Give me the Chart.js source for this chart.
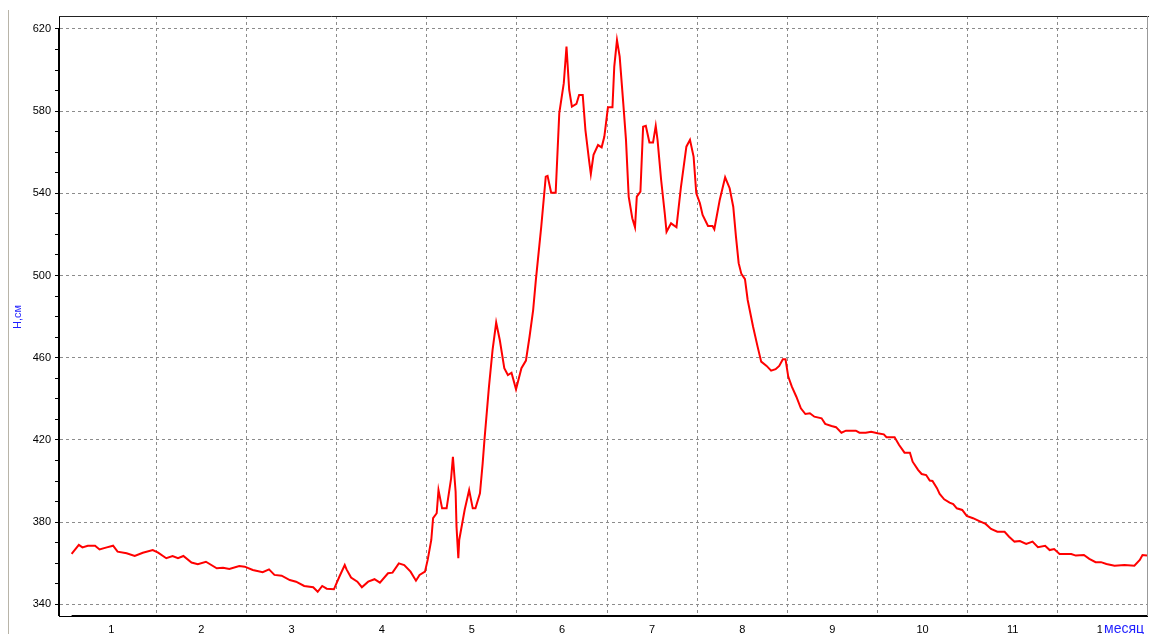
<!DOCTYPE html>
<html>
<head>
<meta charset="utf-8">
<script src="https://cdn.jsdelivr.net/npm/chart.js@4/dist/chart.umd.min.js"></script>
<style>
  html, body { margin: 0; padding: 0; background: #fff; }
  #wrap { width: 1149px; height: 634px; position: relative; }
</style>
</head>
<body>
<div id="wrap"><canvas id="levelChart"></canvas></div>
<script>
// x position in months, water level H in cm
const months = [
  0.56, 0.64, 0.68, 0.74, 0.82, 0.87, 0.95, 1.02, 1.07, 1.17, 1.26, 1.35, 1.46, 1.52, 1.61, 1.68, 1.74, 1.80, 1.89, 1.96,
  2.05, 2.17, 2.24, 2.31, 2.42, 2.48, 2.57, 2.68, 2.75, 2.81, 2.89, 2.98, 3.05, 3.14, 3.24, 3.29, 3.34, 3.39, 3.47, 3.53,
  3.59, 3.61, 3.66, 3.73, 3.78, 3.85, 3.92, 3.98, 4.07, 4.12, 4.19, 4.25, 4.32, 4.38, 4.42, 4.48, 4.51, 4.55, 4.57, 4.61,
  4.63, 4.67, 4.72, 4.77, 4.79, 4.82, 4.83, 4.85, 4.86, 4.92, 4.97, 5.01, 5.04, 5.09, 5.12, 5.14, 5.19, 5.23, 5.27, 5.31,
  5.36, 5.40, 5.44, 5.49, 5.55, 5.60, 5.64, 5.68, 5.71, 5.77, 5.82, 5.84, 5.88, 5.93, 5.97, 6.02, 6.05, 6.08, 6.11, 6.16,
  6.19, 6.23, 6.26, 6.30, 6.32, 6.35, 6.40, 6.44, 6.47, 6.51, 6.56, 6.58, 6.61, 6.64, 6.68, 6.71, 6.74, 6.78, 6.81, 6.83,
  6.87, 6.90, 6.93, 6.97, 7.01, 7.04, 7.06, 7.10, 7.14, 7.16, 7.21, 7.27, 7.32, 7.38, 7.42, 7.46, 7.49, 7.53, 7.56, 7.62,
  7.67, 7.69, 7.75, 7.81, 7.86, 7.90, 7.93, 7.96, 7.99, 8.03, 8.06, 8.12, 8.17, 8.21, 8.27, 8.32, 8.37, 8.41, 8.45, 8.48,
  8.51, 8.55, 8.60, 8.65, 8.70, 8.75, 8.80, 8.88, 8.92, 8.99, 9.04, 9.10, 9.15, 9.26, 9.30, 9.37, 9.43, 9.50, 9.57, 9.60,
  9.69, 9.74, 9.80, 9.86, 9.89, 9.95, 9.99, 10.04, 10.08, 10.11, 10.16, 10.19, 10.24, 10.30, 10.34, 10.38, 10.44, 10.49, 10.56, 10.63,
  10.70, 10.76, 10.83, 10.91, 10.96, 11.02, 11.08, 11.15, 11.22, 11.28, 11.36, 11.41, 11.46, 11.52, 11.65, 11.70, 11.79, 11.85, 11.92, 11.98,
  12.04, 12.13, 12.24, 12.35, 12.41, 12.44, 12.49
];
const level = [
  364.5, 368.9, 367.7, 368.5, 368.5, 366.7, 367.7, 368.5, 365.6, 364.8, 363.5, 365.1, 366.4, 365.1, 362.4, 363.5, 362.4, 363.5, 360.3, 359.5,
  360.7, 357.5, 357.8, 357.2, 358.6, 358.3, 356.7, 355.6, 357.0, 354.3, 353.9, 351.8, 351.0, 348.9, 348.3, 346.1, 348.9, 347.6, 347.3, 353.4,
  359.1, 357.0, 353.0, 351.0, 348.3, 351.0, 352.2, 350.5, 355.1, 355.4, 359.9, 359.1, 355.9, 351.5, 354.3, 355.9, 361.6, 371.3, 381.9, 384.3,
  395.6, 386.7, 386.7, 401.3, 411.8, 394.8, 377.8, 362.4, 371.3, 385.9, 395.6, 386.7, 386.7, 394.0, 408.6, 420.0, 445.9, 463.8, 477.1, 468.6,
  454.9, 451.6, 452.7, 444.6, 454.9, 458.6, 470.2, 483.2, 497.8, 523.8, 548.1, 548.5, 540.3, 540.3, 579.0, 593.6, 611.4, 590.3, 582.2, 583.5,
  587.9, 587.9, 570.8, 556.2, 549.4, 558.7, 563.5, 562.4, 567.6, 581.9, 581.9, 601.7, 614.6, 606.5, 583.8, 566.0, 538.4, 527.9, 523.5, 538.4,
  540.8, 572.4, 572.9, 564.7, 564.7, 572.8, 566.0, 546.5, 530.3, 521.3, 525.4, 523.5, 543.2, 562.7, 566.0, 557.9, 540.0, 535.2, 529.5, 524.1,
  524.1, 522.5, 536.8, 547.8, 542.5, 533.5, 518.9, 506.0, 500.8, 498.2, 488.1, 475.1, 465.4, 458.1, 456.0, 453.7, 454.4, 456.0, 459.2, 459.2,
  450.8, 445.9, 441.0, 435.4, 432.6, 433.0, 431.3, 430.5, 427.8, 426.8, 426.2, 423.5, 424.5, 424.5, 423.5, 423.5, 424.0, 423.2, 422.7, 421.3,
  421.3, 417.5, 413.8, 413.8, 409.4, 405.4, 403.4, 402.9, 400.2, 400.0, 396.5, 393.7, 391.1, 389.5, 388.8, 386.7, 385.9, 383.0, 381.9, 380.5,
  379.1, 376.7, 375.3, 375.3, 372.9, 370.5, 370.8, 369.4, 370.5, 367.8, 368.5, 366.4, 366.9, 364.5, 364.5, 363.7, 364.0, 362.1, 360.5, 360.5,
  359.6, 358.8, 359.1, 358.8, 361.6, 364.0, 363.7
];
const monthTicks = [1, 2, 3, 4, 5, 6, 7, 8, 9, 10, 11, 12];
const levelTicks = [340, 380, 420, 460, 500, 540, 580, 620];

const FONT = "'Liberation Sans', Arial, sans-serif";
const GRID = '#8c8c8c';

// frame, thick axis parts and the two blue captions
const decor = {
  id: 'decor',
  afterDraw(chart) {
    const { ctx, chartArea: a, scales: { x, y } } = chart;
    ctx.save();
    ctx.strokeStyle = '#b8b4a8';
    ctx.lineWidth = 1;
    ctx.beginPath();
    ctx.moveTo(8.5, 10); ctx.lineTo(8.5, 634);
    ctx.stroke();
    ctx.strokeStyle = '#222';
    ctx.beginPath();
    ctx.moveTo(a.left, a.top + 0.5); ctx.lineTo(1149, a.top + 0.5);
    ctx.stroke();
    ctx.strokeStyle = '#999';
    ctx.beginPath();
    ctx.moveTo(a.right + 0.5, a.top); ctx.lineTo(a.right + 0.5, a.bottom);
    ctx.stroke();

    ctx.strokeStyle = '#000';
    ctx.lineWidth = 2;
    ctx.beginPath();
    ctx.moveTo(a.left, y.getPixelForValue(620));
    ctx.lineTo(a.left, a.bottom);
    ctx.moveTo(x.getPixelForValue(months[0]), a.bottom);
    ctx.lineTo(a.right, a.bottom);
    ctx.stroke();

    ctx.fillStyle = '#1f1fff';
    ctx.font = '11px ' + FONT;
    ctx.textAlign = 'center';
    ctx.textBaseline = 'middle';
    ctx.translate(18, 317);
    ctx.rotate(-Math.PI / 2);
    ctx.fillText('H,см', 0, 0);
    ctx.restore();

    ctx.save();
    ctx.fillStyle = '#fff';
    ctx.fillRect(1102, a.bottom + 4, 47, 634 - a.bottom - 4);
    ctx.fillStyle = '#1f1fff';
    ctx.font = '14px ' + FONT;
    ctx.textAlign = 'left';
    ctx.textBaseline = 'middle';
    ctx.fillText('месяц', 1104, 629);
    ctx.restore();
  }
};

const ctx = document.getElementById('levelChart').getContext('2d');

new Chart(ctx, {
  type: 'line',
  data: {
    datasets: [{
      data: months.map((m, i) => ({ x: m, y: level[i] })),
      borderColor: '#ff0000',
      borderWidth: 2,
      pointRadius: 0,
      tension: 0,
      fill: false
    }]
  },
  options: {
    responsive: true,
    maintainAspectRatio: false,
    animation: false,
    layout: { padding: { top: 16, right: 2, left: 0, bottom: 0 } },
    plugins: {
      legend: { display: false },
      tooltip: { enabled: false }
    },
    scales: {
      x: {
        type: 'linear',
        min: 0.42,
        max: 12.49,
        afterBuildTicks(scale) {
          const t = [];
          monthTicks.forEach(m => {
            t.push({ value: m });
            if (m < 12) t.push({ value: m + 0.5 });
          });
          scale.ticks = t;
        },
        afterFit(scale) { scale.height = 18; },
        grid: {
          color: c => (c.tick && c.tick.value % 1 !== 0) ? GRID : 'rgba(0,0,0,0)',
          lineWidth: 1,
          drawTicks: false
        },
        border: { color: '#000', width: 1, dash: [3, 3] },
        ticks: {
          autoSkip: false,
          maxRotation: 0,
          padding: 7,
          color: '#000',
          font: { family: FONT, size: 11 },
          callback: v => monthTicks.includes(v) ? String(v) : ''
        }
      },
      y: {
        type: 'linear',
        min: 334.3,
        max: 626.3,
        afterBuildTicks(scale) {
          const t = [];
          for (let v = 340; v <= 620; v += 10) t.push({ value: v });
          scale.ticks = t;
        },
        afterFit(scale) { scale.width = 59; },
        grid: {
          color: c => (c.tick && levelTicks.includes(c.tick.value)) ? GRID : 'rgba(0,0,0,0)',
          lineWidth: 1,
          tickColor: '#000',
          tickLength: 4,
          tickBorderDash: []
        },
        border: { color: '#000', width: 1, dash: [3, 3] },
        ticks: {
          autoSkip: false,
          padding: 4,
          color: '#000',
          font: { family: FONT, size: 11 },
          callback: v => levelTicks.includes(v) ? String(v) : ''
        }
      }
    }
  },
  plugins: [decor]
});
</script>
</body>
</html>
